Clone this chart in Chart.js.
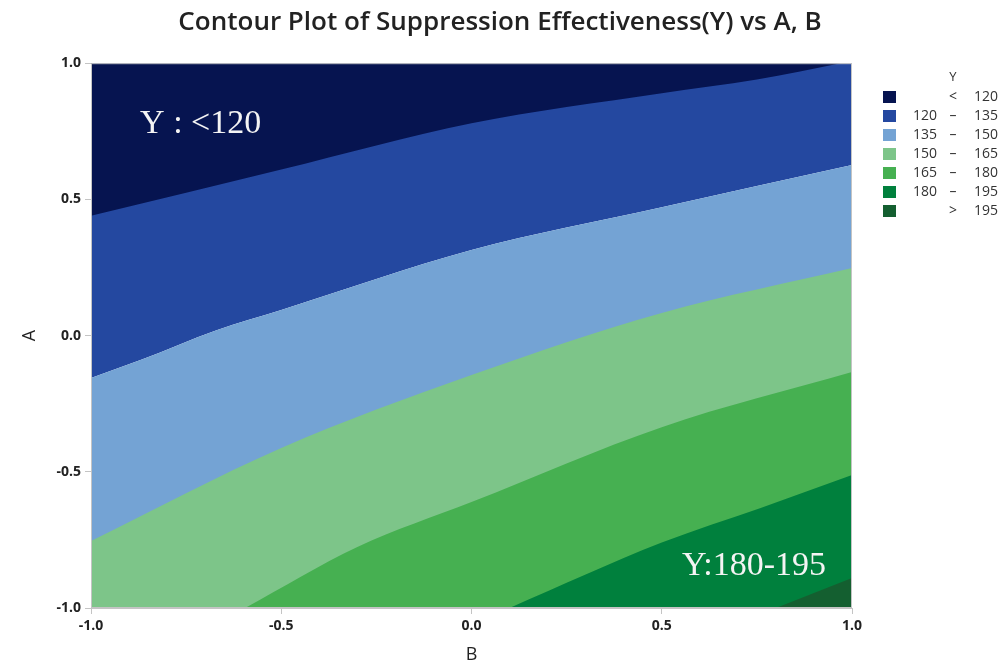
<!DOCTYPE html>
<html>
<head>
<meta charset="utf-8">
<title>Contour Plot of Suppression Effectiveness(Y) vs A, B</title>
<script src="https://cdn.jsdelivr.net/npm/chart.js@4"></script>
<style>
  html, body { margin: 0; padding: 0; background: #fff; }
  #wrap { width: 1000px; height: 667px; }
</style>
</head>
<body>
<div id="wrap"><canvas id="contour" width="1000" height="667"></canvas></div>
<script>
(function() {
    'use strict';

    /* ---- contour lines: B on x, A on y ---- */
    var c120B = [-1.0, -0.5, 0.0, 0.5, 0.75, 0.97];
    var c120A = [0.44, 0.61, 0.78, 0.89, 0.94, 1.0];

    var c135B = [-1.0, -0.87, -0.67, -0.5, 0.0, 0.5, 1.0];
    var c135A = [-0.156, -0.09, 0.02, 0.094, 0.314, 0.471, 0.626];

    var c150B = [-1.0, -0.5, 0.0, 0.5, 1.0];
    var c150A = [-0.754, -0.413, -0.145, 0.083, 0.248];

    var c165B = [-0.595, -0.3, 0.0, 0.5, 1.0];
    var c165A = [-1.0, -0.776, -0.611, -0.336, -0.134];

    var c180B = [0.1, 0.5, 0.76, 1.0];
    var c180A = [-1.0, -0.76, -0.633, -0.512];

    var c195B = [0.8, 1.0];
    var c195A = [-1.0, -0.89];

    /* ---- bands (legend order) ---- */
    var bandLo  = ['',    '120', '135', '150', '165', '180', ''];
    var bandSep = ['<',   '\u2013', '\u2013', '\u2013', '\u2013', '\u2013', '>'];
    var bandHi  = ['120', '135', '150', '165', '180', '195', '195'];
    var bandColors = ['#061450', '#2448a0', '#74a3d4', '#7dc589', '#46b051', '#00803d', '#145f30'];

    /* ---- axis ticks ---- */
    var tickValues = [-1.0, -0.5, 0.0, 0.5, 1.0];

    function pts(bs, as) {
        return bs.map(function(b, i) { return { x: b, y: as[i] }; });
    }

    /* each band = one dataset; lower bands fill down to the axis start, top two fill up */
    var bandData = [
        { line: pts(c120B, c120A), fill: 'end',   order: 0 },
        { line: pts(c135B, c135A), fill: 'end',   order: 6 },
        { line: pts(c135B, c135A), fill: 'start', order: 5 },
        { line: pts(c150B, c150A), fill: 'start', order: 4 },
        { line: pts(c165B, c165A), fill: 'start', order: 3 },
        { line: pts(c180B, c180A), fill: 'start', order: 2 },
        { line: pts(c195B, c195A), fill: 'start', order: 1 }
    ];

    var datasets = bandData.map(function(d, i) {
        return {
            label: (bandLo[i] + ' ' + bandSep[i] + ' ' + bandHi[i]).trim(),
            data: d.line,
            fill: d.fill,
            order: d.order,
            yAxisID: 'y',
            backgroundColor: bandColors[i],
            borderColor: 'transparent',
            borderWidth: 0,
            pointRadius: 0,
            cubicInterpolationMode: 'monotone'
        };
    });

    /* ---- in-plot notes (white serif text) ---- */
    var notes = [
        { text: 'Y : <120',  b: -0.871, a: 0.745 },
        { text: 'Y:180-195', b: 0.553,  a: -0.879 }
    ];

    var notePlugin = {
        id: 'notes',
        afterDatasetsDraw: function(chart) {
            var ctx = chart.ctx, x = chart.scales.x, y = chart.scales.y, area = chart.chartArea;
            ctx.save();
            /* plot frame */
            ctx.strokeStyle = '#c4c4c4';
            ctx.lineWidth = 1;
            ctx.strokeRect(area.left + 0.5, area.top + 0.5, area.right - area.left - 1, area.bottom - area.top - 1);
            ctx.fillStyle = '#f4f4f4';
            ctx.font = '34px "Liberation Serif", serif';
            ctx.textAlign = 'left';
            ctx.textBaseline = 'alphabetic';
            notes.forEach(function(n) {
                ctx.fillText(n.text, x.getPixelForValue(n.b), y.getPixelForValue(n.a));
            });
            ctx.restore();
        }
    };

    /* ---- legend on the right ---- */
    var legendPlugin = {
        id: 'bandLegend',
        afterDraw: function(chart) {
            var ctx = chart.ctx;
            ctx.save();
            ctx.fillStyle = '#333';
            ctx.font = '13px "Open Sans", sans-serif';
            ctx.textAlign = 'center';
            ctx.textBaseline = 'middle';
            ctx.fillText('Y', 953, 77);
            ctx.font = '14px "Open Sans", sans-serif';
            bandColors.forEach(function(col, i) {
                var cy = 97 + i * 19;
                ctx.fillStyle = col;
                ctx.fillRect(883, cy - 6, 13, 12);
                ctx.fillStyle = '#333';
                ctx.textAlign = 'right';
                if (bandLo[i]) ctx.fillText(bandLo[i], 937, cy);
                ctx.fillText(bandHi[i], 998, cy);
                ctx.textAlign = 'center';
                ctx.fillText(bandSep[i], 953, cy);
            });
            ctx.restore();
        }
    };

    var tickFont = { family: "'Open Sans', sans-serif", size: 14, weight: 'bold' };
    var titleFont = { family: "'Open Sans', sans-serif", size: 18 };

    new Chart(document.getElementById('contour'), {
        type: 'line',
        data: { datasets: datasets },
        options: {
            responsive: false,
            animation: false,
            events: [],
            plugins: {
                legend: { display: false },
                tooltip: { enabled: false },
                title: {
                    display: true,
                    text: 'Contour Plot of Suppression Effectiveness(Y) vs A, B',
                    font: { family: "'Open Sans', sans-serif", size: 26, weight: '600' },
                    color: '#222',
                    padding: { top: 7, bottom: 25 }
                }
            },
            scales: {
                x: {
                    type: 'linear',
                    min: -1, max: 1,
                    afterBuildTicks: function(s) { s.ticks = tickValues.map(function(v) { return { value: v }; }); },
                    afterFit: function(s) { s.height = 59; },
                    ticks: {
                        color: '#222', font: tickFont, padding: 4, maxRotation: 0,
                        callback: function(v) { return v.toFixed(1); }
                    },
                    grid: { drawOnChartArea: false, drawTicks: true, tickLength: 6, color: '#c4c4c4' },
                    border: { display: true, color: '#c4c4c4' },
                    title: { display: true, text: 'B', color: '#222', font: titleFont, padding: { top: 0, bottom: 1 } }
                },
                y: {
                    type: 'linear',
                    min: -1, max: 1,
                    afterBuildTicks: function(s) { s.ticks = tickValues.map(function(v) { return { value: v }; }); },
                    afterFit: function(s) { s.width = 91; },
                    ticks: {
                        color: '#222', font: tickFont, padding: 4,
                        callback: function(v) { return v.toFixed(1); }
                    },
                    grid: { drawOnChartArea: false, drawTicks: true, tickLength: 6, color: '#c4c4c4' },
                    border: { display: true, color: '#c4c4c4' },
                    title: { display: true, text: 'A', color: '#222', font: titleFont, padding: { top: 19, bottom: 0 } }
                },
                /* empty right-hand axis that keeps room for the legend */
                legendSpace: {
                    type: 'linear',
                    position: 'right',
                    min: -1, max: 1,
                    afterFit: function(s) { s.width = 148; },
                    ticks: { display: false },
                    grid: { display: false },
                    border: { display: false }
                }
            }
        },
        plugins: [notePlugin, legendPlugin]
    });
})();
</script>
</body>
</html>
